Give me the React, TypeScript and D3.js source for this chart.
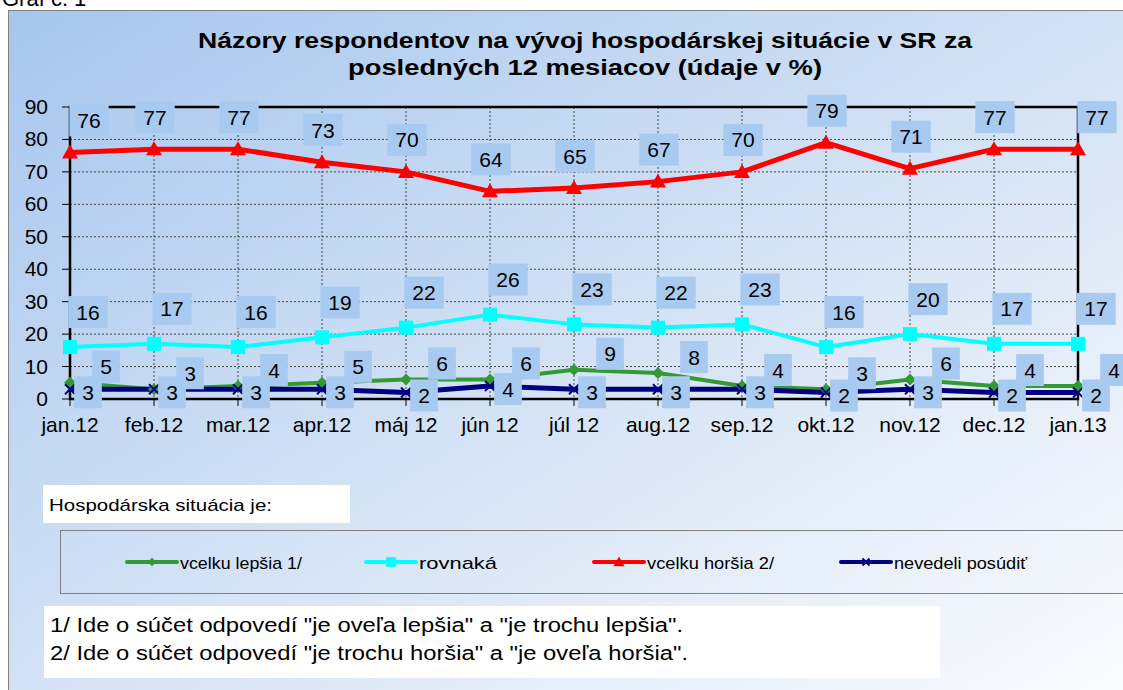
import React from 'react';
import * as d3 from 'd3';

const months = ['jan.12', 'feb.12', 'mar.12', 'apr.12', 'máj 12', 'jún 12', 'júl 12', 'aug.12', 'sep.12', 'okt.12', 'nov.12', 'dec.12', 'jan.13'];
const lepsia = [5, 3, 4, 5, 6, 6, 9, 8, 4, 3, 6, 4, 4];
const rovnaka = [16, 17, 16, 19, 22, 26, 23, 22, 23, 16, 20, 17, 17];
const horsia = [76, 77, 77, 73, 70, 64, 65, 67, 70, 79, 71, 77, 77];
const nevedeli = [3, 3, 3, 3, 2, 4, 3, 3, 3, 2, 3, 2, 2];
const yTicks = [0, 10, 20, 30, 40, 50, 60, 70, 80, 90];
const footnotes = [
  '1/ Ide o súčet odpovedí "je oveľa lepšia" a "je trochu lepšia".',
  '2/ Ide o súčet odpovedí "je trochu horšia" a "je oveľa horšia".',
];

const FONT = '"Liberation Sans", Arial, sans-serif';
const BOX = '#a9caf0';

type Marker = 'diamond' | 'square' | 'triangle' | 'cross';

const series = [
  { name: 'vcelku lepšia 1/', values: lepsia, color: '#339933', width: 4, marker: 'diamond' as Marker, dx: 36, dy: -16, lx: 127, tw: 122 },
  { name: 'rovnaká', values: rovnaka, color: '#00ffff', width: 4, marker: 'square' as Marker, dx: 18, dy: -35, lx: 366, tw: 78 },
  { name: 'vcelku horšia 2/', values: horsia, color: '#ff0000', width: 5, marker: 'triangle' as Marker, dx: 1, dy: -32, lx: 594, tw: 127 },
  { name: 'nevedeli posúdiť', values: nevedeli, color: '#000080', width: 5, marker: 'cross' as Marker, dx: 18, dy: 3, lx: 841, tw: 133 },
];

const markerShape = (m: Marker, x: number, y: number, color: string, s = 1) => {
  if (m === 'diamond') {
    const r = 6 * s;
    return <path d={`M${x},${y - r}L${x + r},${y}L${x},${y + r}L${x - r},${y}Z`} fill={color} />;
  }
  if (m === 'square') {
    const r = 7 * s;
    return <rect x={x - r} y={y - r} width={r * 2} height={r * 2} fill={color} />;
  }
  if (m === 'triangle') {
    const r = 8 * s;
    return <path d={`M${x},${y - r}L${x + r},${y + r * 0.75}L${x - r},${y + r * 0.75}Z`} fill={color} />;
  }
  const r = 5 * s;
  return <path d={`M${x - r},${y - r}L${x + r},${y + r}M${x - r},${y + r}L${x + r},${y - r}`} stroke={color} strokeWidth={2} />;
};

export default function App() {
  const W = 1123;
  const H = 690;
  const x = d3.scalePoint<string>().domain(months).range([70, 1078]);
  const y = d3.scaleLinear().domain([0, 90]).range([399, 107]);
  const line = d3.line<number>().x((_, i) => x(months[i])!).y(d => y(d));
  const last = months.length - 1;

  return (
    <div style={{ position: 'absolute', left: 0, top: 0 }}>
      <svg width={W} height={H} style={{ display: 'block', fontFamily: FONT }}>
        <defs>
          <linearGradient id="bg" x1="0" y1="0" x2="1" y2="1">
            <stop offset="0" stopColor="#a6c6ee" />
            <stop offset="0.5" stopColor="#d3e2f5" />
            <stop offset="1" stopColor="#fbfcfe" />
          </linearGradient>
        </defs>
        <rect width={W} height={H} fill="#ffffff" />
        <text x={2} y={6} fontSize={22} fill="#000">Graf č. 1</text>
        <rect x={8.5} y={10.5} width={W} height={H} fill="url(#bg)" stroke="#808080" strokeWidth={1} />

        {/* title */}
        <text x={198} y={48} fontSize={22} fontWeight="bold" textLength={774} lengthAdjust="spacingAndGlyphs">
          Názory respondentov na vývoj hospodárskej situácie v SR za
        </text>
        <text x={348} y={75} fontSize={22} fontWeight="bold" textLength={474} lengthAdjust="spacingAndGlyphs">
          posledných 12 mesiacov (údaje v %)
        </text>

        {/* grid */}
        {yTicks.map(t => (
          <g key={'y' + t}>
            <line x1={70} x2={1078} y1={y(t)} y2={y(t)} stroke="#444" strokeWidth={1} strokeDasharray="2,2" />
            <line x1={62} x2={70} y1={y(t)} y2={y(t)} stroke="#000" strokeWidth={1} />
            <text x={48} y={y(t) + 7} fontSize={21} textAnchor="end">{t}</text>
          </g>
        ))}
        {months.map(m => (
          <g key={'x' + m}>
            <line x1={x(m)} x2={x(m)} y1={107} y2={399} stroke="#444" strokeWidth={1} strokeDasharray="2,2" />
            <line x1={x(m)} x2={x(m)} y1={399} y2={406} stroke="#000" strokeWidth={1} />
            <text x={x(m)} y={432} fontSize={21} textAnchor="middle">{m}</text>
          </g>
        ))}
        <rect x={70} y={107} width={1008} height={292} fill="none" stroke="#000" strokeWidth={2.5} />

        {/* lines */}
        {series.map(s => (
          <path key={s.name} d={line(s.values)!} fill="none" stroke={s.color} strokeWidth={s.width} strokeLinejoin="round" />
        ))}
        {series.map(s => (
          <g key={s.name + 'm'}>
            {s.values.map((v, i) => <g key={i}>{markerShape(s.marker, x(months[i])!, y(v), s.color)}</g>)}
          </g>
        ))}

        {/* data labels */}
        {series.map(s => (
          <g key={s.name + 'l'}>
            {s.values.map((v, i) => {
              const dx = s.marker === 'triangle' && (i === 0 || i === last) ? 19 : s.dx;
              const cx = x(months[i])! + dx;
              const cy = y(v) + s.dy;
              const w = String(v).length * 11.7 + 16;
              return (
                <g key={i}>
                  <rect x={cx - w / 2} y={cy - 16} width={w} height={32} fill={BOX} />
                  <text x={cx} y={cy + 7.5} fontSize={21} textAnchor="middle">{v}</text>
                </g>
              );
            })}
          </g>
        ))}

        {/* legend */}
        <rect x={43} y={485} width={307} height={38} fill="#fff" />
        <text x={49} y={511} fontSize={17} textLength={223} lengthAdjust="spacingAndGlyphs">Hospodárska situácia  je:</text>
        <rect x={60.5} y={530.5} width={1100} height={63} fill="none" stroke="#808080" strokeWidth={1} />
        {series.map(s => (
          <g key={s.name + 'leg'}>
            <line x1={s.lx} x2={s.lx + 50} y1={562} y2={562} stroke={s.color} strokeWidth={4} strokeLinecap="round" />
            {markerShape(s.marker, s.lx + 25, 562, s.color, 0.7)}
            <text x={s.lx + 53} y={569} fontSize={17} textLength={s.tw} lengthAdjust="spacingAndGlyphs">{s.name}</text>
          </g>
        ))}

        {/* footnotes */}
        <rect x={44} y={606} width={896} height={72} fill="#fff" />
        {footnotes.map((f, i) => (
          <text key={i} x={50} y={632 + i * 28} fontSize={20} textLength={i === 0 ? 633 : 638} lengthAdjust="spacingAndGlyphs">{f}</text>
        ))}
      </svg>
    </div>
  );
}
